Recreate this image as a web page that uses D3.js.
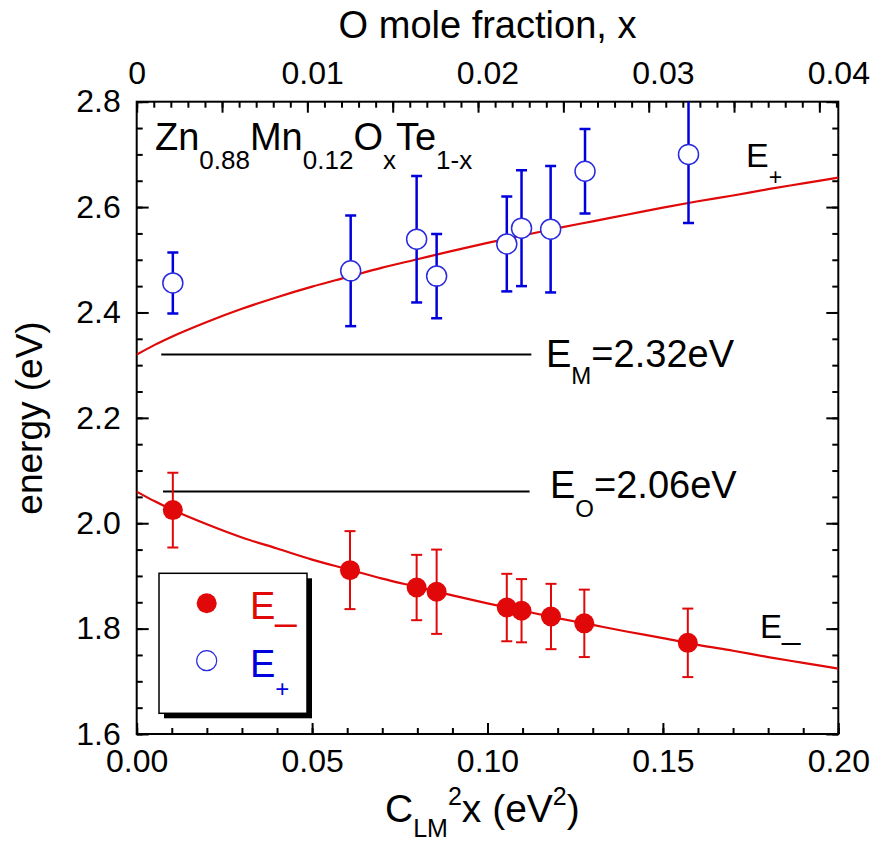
<!DOCTYPE html>
<html>
<head>
<meta charset="utf-8">
<script src="https://cdn.jsdelivr.net/npm/d3@7"></script>
<style>
  html, body { margin: 0; padding: 0; background: #fff; }
  svg { display: block; font-family: "Liberation Sans", Arial, sans-serif; }
</style>
</head>
<body>
<div id="chart"></div>
<script>
const width = 875;
const height = 846;

// eixos
const xTicks = [0, 0.05, 0.10, 0.15, 0.20];
const yTicks = [1.6, 1.8, 2.0, 2.2, 2.4, 2.6, 2.8];
const topTicks = [0, 0.01, 0.02, 0.03, 0.04];
const topTickStep = 0.004865;   // passo dos ticks maiores do eixo de cima

// E- (cheios, vermelhos)
const eMinusX   = [0.0103, 0.0608, 0.0798, 0.0855, 0.1055, 0.1097, 0.1181, 0.1276, 0.1571];
const eMinusY   = [2.025, 1.911, 1.878, 1.870, 1.840, 1.834, 1.823, 1.810, 1.773];
const eMinusErr = [0.071, 0.074, 0.062, 0.080, 0.064, 0.060, 0.062, 0.064, 0.065];

// E+ (abertos, azuis)
const ePlusX   = [0.0103, 0.0610, 0.0798, 0.0855, 0.1055, 0.1097, 0.1180, 0.1278, 0.1573];
const ePlusY   = [2.456, 2.479, 2.539, 2.469, 2.530, 2.560, 2.558, 2.668, 2.700];
const ePlusErr = [0.058, 0.105, 0.120, 0.080, 0.090, 0.110, 0.120, 0.080, 0.130];

// curvas de ajuste
const fitX     = [0, 0.005, 0.01, 0.02, 0.03, 0.04, 0.05, 0.06, 0.07, 0.08, 0.09, 0.10,
                  0.11, 0.12, 0.13, 0.14, 0.15, 0.16, 0.17, 0.18, 0.19, 0.20];
const fitPlus  = [2.320, 2.338, 2.354, 2.382, 2.407, 2.429, 2.449, 2.467, 2.485, 2.501, 2.517, 2.532,
                  2.546, 2.560, 2.573, 2.586, 2.599, 2.611, 2.622, 2.634, 2.645, 2.656];
const fitMinus = [2.060, 2.042, 2.026, 1.998, 1.973, 1.952, 1.931, 1.913, 1.895, 1.879, 1.863, 1.848,
                  1.834, 1.820, 1.807, 1.794, 1.782, 1.769, 1.758, 1.746, 1.735, 1.724];

// niveis E_M e E_O
const levelNames = ["M", "O"];
const levelValues = [2.32, 2.06];
const levelStart = [0.007, 0.0075];
const levelEnd = [0.1125, 0.112];

const red = "#e00808";
const blue = "#0000dd";

const x0 = 136.7, x1 = 838.3, y0 = 101.7, y1 = 734;

const svg = d3.select("#chart")
  .append("svg")
  .attr("width", width)
  .attr("height", height);

const x = d3.scaleLinear().domain([0, 0.2]).range([x0, x1]);
const xTop = d3.scaleLinear().domain([0, 0.04]).range([x0, x1]);
const y = d3.scaleLinear().domain([1.6, 2.8]).range([y1, y0]);

svg.append("clipPath").attr("id", "clip")
  .append("rect")
  .attr("x", x0).attr("y", y0)
  .attr("width", x1 - x0).attr("height", y1 - y0);

// --- eixos ---
function estilo(g, size) {
  g.select(".domain").remove();
  g.selectAll("line").attr("stroke", "#000").attr("stroke-width", 2);
  g.selectAll("text").attr("fill", "#000").style("font-size", size + "px");
}

const xMinor = d3.range(0, 0.2001, 0.01);
const yMinor = d3.range(1.6, 2.8001, 0.05);

svg.append("g").attr("transform", `translate(0,${y1})`)
  .call(d3.axisBottom(x).tickValues(xMinor).tickSize(-6).tickFormat(""))
  .call(estilo, 32);
svg.append("g").attr("transform", `translate(0,${y1})`)
  .call(d3.axisBottom(x).tickValues(xTicks).tickSize(-11).tickPadding(15)
    .tickFormat(d3.format(".2f")))
  .call(estilo, 32);

svg.append("g").attr("transform", `translate(${x0},0)`)
  .call(d3.axisLeft(y).tickValues(yMinor).tickSize(-6).tickFormat(""))
  .call(estilo, 32);
svg.append("g").attr("transform", `translate(${x0},0)`)
  .call(d3.axisLeft(y).tickValues(yTicks).tickSize(-12).tickPadding(16)
    .tickFormat(d3.format(".1f")))
  .call(estilo, 32);

svg.append("g").attr("transform", `translate(${x1},0)`)
  .call(d3.axisRight(y).tickValues(yMinor).tickSize(-6).tickFormat(""))
  .call(estilo, 32);
svg.append("g").attr("transform", `translate(${x1},0)`)
  .call(d3.axisRight(y).tickValues(yTicks).tickSize(-12).tickFormat(""))
  .call(estilo, 32);

const topMajor = d3.range(0, 0.04, topTickStep);
const topMinor = d3.range(0, 0.04, topTickStep / 5);
svg.append("g").attr("transform", `translate(0,${y0})`)
  .call(d3.axisTop(xTop).tickValues(topMinor).tickSize(-6).tickFormat(""))
  .call(estilo, 32);
svg.append("g").attr("transform", `translate(0,${y0})`)
  .call(d3.axisTop(xTop).tickValues(topMajor).tickSize(-11).tickFormat(""))
  .call(estilo, 32);
svg.append("g").attr("transform", `translate(0,${y0})`)
  .call(d3.axisTop(xTop).tickValues(topTicks).tickSize(0).tickPadding(18)
    .tickFormat(d => d === 0 ? "0" : d3.format(".2f")(d)))
  .call(estilo, 32);

svg.append("rect")
  .attr("x", x0).attr("y", y0)
  .attr("width", x1 - x0).attr("height", y1 - y0)
  .attr("fill", "none").attr("stroke", "#000").attr("stroke-width", 2);

// --- texto com indices ---
function rich(x, yb, parts, color, anchor) {
  const t = svg.append("text")
    .attr("x", x).attr("y", yb)
    .attr("fill", color || "#000")
    .attr("text-anchor", anchor || "start");
  let cur = 0;
  parts.forEach(([txt, size, shift]) => {
    t.append("tspan")
      .attr("dy", shift - cur)
      .style("font-size", size + "px")
      .text(txt);
    cur = shift;
  });
  return t;
}

// titulos
svg.append("text")
  .attr("x", (x0 + x1) / 2).attr("y", 38)
  .attr("text-anchor", "middle")
  .style("font-size", "38px")
  .text("O mole fraction, x");

rich(385, 822, [["C", 39, 0], ["LM", 25, 15], ["2", 25, -17], ["x (eV", 39, 0], ["2", 25, -17], [")", 39, 0]]);

svg.append("text")
  .attr("transform", "translate(42,418) rotate(-90)")
  .attr("text-anchor", "middle")
  .style("font-size", "37px")
  .text("energy (eV)");

rich(155, 150, [["Zn", 38, 0], ["0.88", 26, 19], ["Mn", 38, 0], ["0.12", 26, 19],
  ["O", 38, 0], ["x", 26, 19], ["Te", 38, 0], ["1-x", 26, 19]]);

// niveis
levelNames.forEach((n, i) => {
  svg.append("line")
    .attr("x1", x(levelStart[i])).attr("x2", x(levelEnd[i]))
    .attr("y1", y(levelValues[i])).attr("y2", y(levelValues[i]))
    .attr("stroke", "#000").attr("stroke-width", 2);
});
rich(546, y(levelValues[0]) + 12, [["E", 38, 0], ["M", 24, 17], ["=2.32eV", 38, 0]]);
rich(550, y(levelValues[1]) + 6, [["E", 38, 0], ["O", 24, 19], ["=2.06eV", 38, 0]]);

// curvas
const plot = svg.append("g").attr("clip-path", "url(#clip)");
const line = (arr) => d3.line()
  .x((d, i) => x(fitX[i]))
  .y((d, i) => y(arr[i]))
  .curve(d3.curveMonotoneX)(arr);

plot.append("path").attr("d", line(fitPlus))
  .attr("fill", "none").attr("stroke", red).attr("stroke-width", 2.2);
plot.append("path").attr("d", line(fitMinus))
  .attr("fill", "none").attr("stroke", red).attr("stroke-width", 2.2);

rich(746, 167, [["E", 34, 0], ["+", 23, 18]]);
rich(760, 638, [["E_", 33, 0]]);

// barras de erro
function erros(xs, ys, es, color, w) {
  const g = plot.append("g").attr("stroke", color).attr("stroke-width", w);
  xs.forEach((xv, i) => {
    const cx = x(xv), top = y(ys[i] + es[i]), bot = y(ys[i] - es[i]);
    g.append("line").attr("x1", cx).attr("x2", cx).attr("y1", top).attr("y2", bot);
    g.append("line").attr("x1", cx - 5.5).attr("x2", cx + 5.5).attr("y1", top).attr("y2", top);
    g.append("line").attr("x1", cx - 5.5).attr("x2", cx + 5.5).attr("y1", bot).attr("y2", bot);
  });
}
erros(ePlusX, ePlusY, ePlusErr, blue, 2.5);
erros(eMinusX, eMinusY, eMinusErr, red, 2);

plot.selectAll("circle.plus")
  .data(ePlusX)
  .enter().append("circle")
  .attr("class", "plus")
  .attr("cx", d => x(d))
  .attr("cy", (d, i) => y(ePlusY[i]))
  .attr("r", 10)
  .attr("fill", "#fff").attr("stroke", "#2a2ae0").attr("stroke-width", 1.5);

plot.selectAll("circle.minus")
  .data(eMinusX)
  .enter().append("circle")
  .attr("class", "minus")
  .attr("cx", d => x(d))
  .attr("cy", (d, i) => y(eMinusY[i]))
  .attr("r", 10)
  .attr("fill", red);

// legenda
const lx = 159, ly = 573.3, lw = 148, lh = 140;
svg.append("rect").attr("x", lx + 5).attr("y", ly + 5).attr("width", lw).attr("height", lh)
  .attr("fill", "#000");
svg.append("rect").attr("x", lx).attr("y", ly).attr("width", lw).attr("height", lh)
  .attr("fill", "#fff").attr("stroke", "#000").attr("stroke-width", 1.5);
svg.append("circle").attr("cx", 206.7).attr("cy", 603.3).attr("r", 10).attr("fill", red);
svg.append("circle").attr("cx", 206.7).attr("cy", 660.7).attr("r", 10)
  .attr("fill", "#fff").attr("stroke", "#2a2ae0").attr("stroke-width", 1.2);
rich(250, 619, [["E_", 38, 0]], red);
rich(250, 677, [["E", 38, 0], ["+", 24, 20]], blue);
</script>
</body>
</html>
